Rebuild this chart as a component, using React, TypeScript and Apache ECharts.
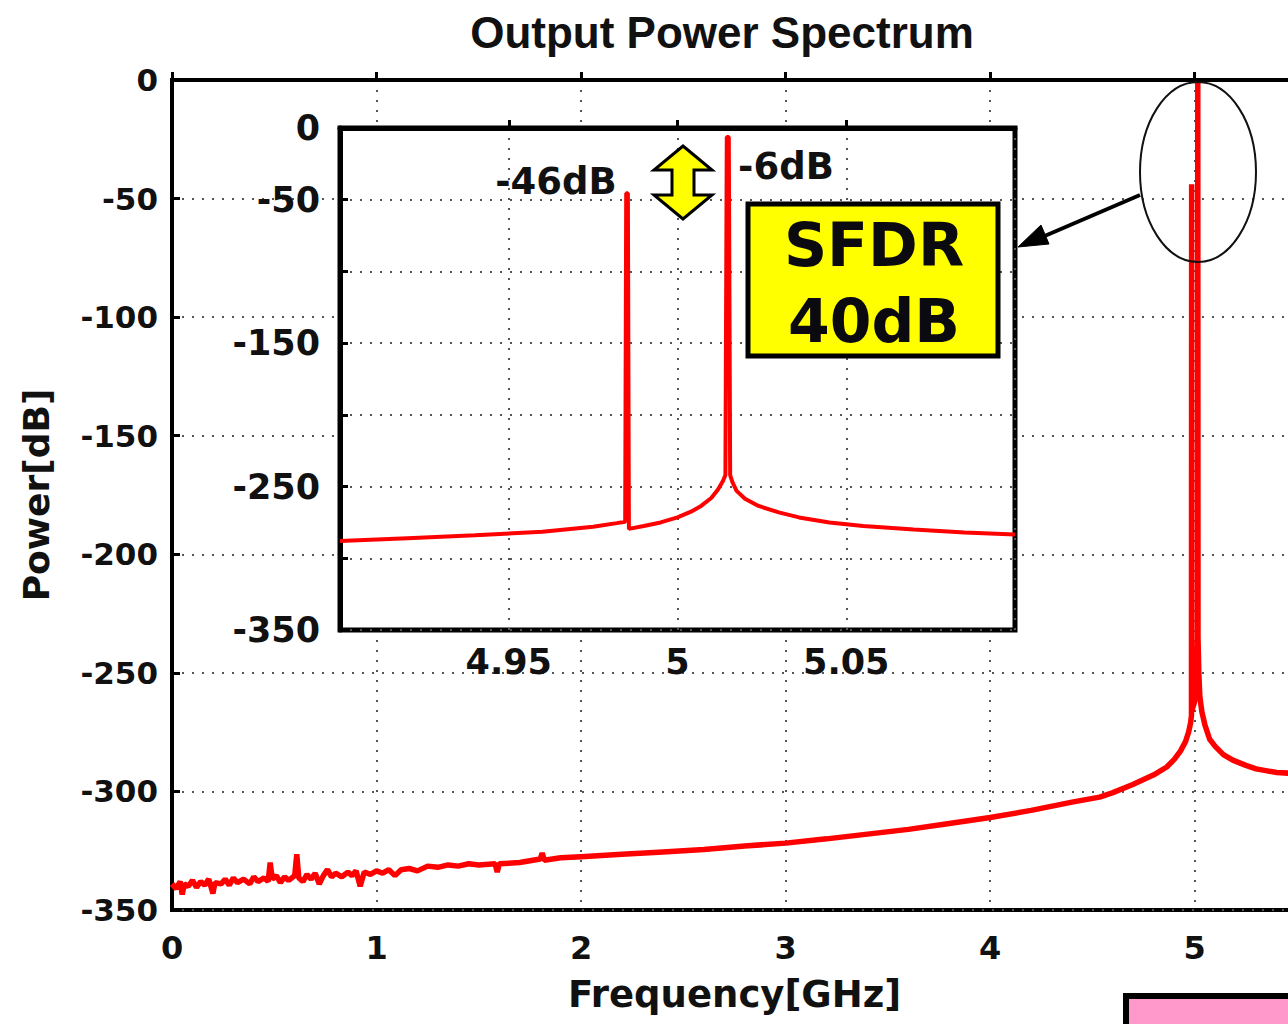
import React, { useEffect, useRef } from "react";
import * as echarts from "echarts";

// ---- Data ----
const mainFreqGHz = [
  0.0, 0.02, 0.04, 0.05, 0.06, 0.08, 0.1, 0.12, 0.14, 0.16, 0.18, 0.2, 0.21, 0.24, 0.26, 0.28, 0.3, 0.32, 0.35,
  0.38, 0.4, 0.42, 0.45, 0.47, 0.48, 0.49, 0.51, 0.53, 0.55, 0.57, 0.6, 0.61, 0.62, 0.64, 0.66, 0.68, 0.7, 0.72,
  0.74, 0.76, 0.78, 0.8, 0.83, 0.86, 0.88, 0.9, 0.92, 0.94, 0.97, 1.0, 1.03, 1.06, 1.09, 1.12, 1.16, 1.2, 1.25,
  1.3, 1.35, 1.4, 1.45, 1.5, 1.58, 1.59, 1.6, 1.7, 1.8, 1.81, 1.82, 1.9, 2.0, 2.2, 2.4, 2.6, 2.8, 3.0, 3.2, 3.4,
  3.6, 3.8, 4.0, 4.2, 4.4, 4.535, 4.6, 4.7, 4.8, 4.863, 4.9, 4.93, 4.955, 4.97, 4.98, 4.984, 4.985, 4.986, 5.0,
  5.01, 5.014, 5.015, 5.016, 5.02, 5.025, 5.035, 5.05, 5.073, 5.1, 5.14, 5.186, 5.25, 5.3, 5.4, 5.5,
];
const mainPowerDb = [
  -339, -341, -338, -343.5, -339, -340, -337.5, -340.5, -338, -339.5, -337, -343, -338.5, -339, -337, -339.5,
  -336.5, -338.5, -337, -339, -336, -338, -336.5, -338, -330, -337, -335.5, -338.5, -336, -337.5, -335.5, -326.5,
  -336.5, -338, -335, -337, -334.5, -339, -335.5, -333, -336, -334.5, -336, -334, -335.5, -333.5, -340, -334,
  -335, -333.5, -334.5, -333, -335.5, -333, -332.5, -333.5, -331.5, -332, -331, -331.5, -330.5, -331, -330.5,
  -334, -330.5, -330, -328.5, -326, -329, -328, -327.5, -326.5, -325.5, -324.5, -323, -321.8, -320, -318, -316,
  -313.5, -311, -308, -304.5, -302.4, -300.5, -297, -293, -289.7, -286.5, -283, -279, -275, -271, -268, -44,
  -266, -262, -250, -235, -1, -235, -250, -260, -266.5, -272, -278, -281, -284.5, -286.8, -289, -290.5, -292,
  -292.5,
];

const insetFreqGHz = [
  4.9, 4.92, 4.94, 4.96, 4.975, 4.982, 4.9845, 4.9848, 4.9853, 4.9856, 4.99, 4.995, 5.0, 5.004, 5.007, 5.01,
  5.012, 5.0135, 5.0142, 5.0146, 5.0152, 5.0156, 5.0163, 5.0175, 5.02, 5.024, 5.03, 5.036, 5.045, 5.055, 5.07,
  5.085, 5.1,
];
const insetPowerDb = [
  -288, -286, -284, -281.5, -278, -275.5, -274.5, -45.5, -45.5, -279.5, -277.5, -275, -271.5, -267.5, -263.5,
  -258, -252, -246, -242, -6.3, -6.3, -242, -247, -253, -258.5, -263.5, -268, -271.5, -275, -277.5, -280, -282,
  -283.5,
];

const insetYTickLabels = [0, -50, -150, -250, -350];
const mainXTicks = { min: 0, max: 5.5, interval: 1 };
const mainYTicks = { min: -350, max: 0, interval: 50 };
const insetXTicks = { min: 4.9, max: 5.1, interval: 0.05 };

const TITLE = "Output Power Spectrum";
const X_NAME = "Frequency[GHz]";
const Y_NAME = "Power[dB]";
const SPUR_LABEL = "-46dB";
const TONE_LABEL = "-6dB";
const SFDR_LINES = ["SFDR", "40dB"];

const FONT = "DejaVu Sans";

export default function App() {
  const ref = useRef<HTMLDivElement>(null);

  useEffect(() => {
    if (!ref.current) return;
    const chart = echarts.init(ref.current, undefined, { renderer: "svg" });

    const mainData = mainFreqGHz.map((f, i) => [f, mainPowerDb[i]]);
    const insetData = insetFreqGHz.map((f, i) => [f, insetPowerDb[i]]);

    const gridDots = { color: "#555", width: 2, type: [2, 8] as any };

    const option: any = {
      animation: false,
      backgroundColor: "#fff",
      grid: [
        {
          left: 172,
          top: 80,
          width: 1125,
          height: 830,
          show: true,
          borderColor: "#000",
          borderWidth: 4,
          backgroundColor: "#fff",
          z: 0,
        },
        {
          left: 340,
          top: 128,
          width: 675,
          height: 502,
          show: true,
          borderColor: "#000",
          borderWidth: 5,
          backgroundColor: "#fff",
          z: 10,
        },
      ],
      xAxis: [
        {
          type: "value",
          gridIndex: 0,
          min: mainXTicks.min,
          max: mainXTicks.max,
          interval: mainXTicks.interval,
          name: X_NAME,
          nameLocation: "middle",
          nameGap: 66,
          nameTextStyle: { fontFamily: FONT, fontWeight: "bold", fontSize: 37, color: "#111" },
          axisLine: { show: true, lineStyle: { color: "#000", width: 4 } },
          axisTick: { show: true, inside: true, length: 8, lineStyle: { color: "#000", width: 3 } },
          axisLabel: {
            showMaxLabel: false,
            margin: 22,
            fontFamily: FONT,
            fontWeight: "bold",
            fontSize: 32,
            color: "#111",
          },
          splitLine: { show: true, lineStyle: gridDots },
          z: 1,
        },
        {
          type: "value",
          gridIndex: 1,
          min: insetXTicks.min,
          max: insetXTicks.max,
          interval: insetXTicks.interval,
          axisLine: { show: true, lineStyle: { color: "#000", width: 5 } },
          axisTick: { show: true, inside: true, length: 8, lineStyle: { color: "#000", width: 3 } },
          axisLabel: {
            showMinLabel: false,
            showMaxLabel: false,
            margin: 14,
            fontFamily: FONT,
            fontWeight: "bold",
            fontSize: 35,
            color: "#111",
            formatter: (v: number) => String(Math.round(v * 100) / 100),
          },
          splitLine: { show: true, lineStyle: gridDots },
          z: 11,
        },
      ],
      yAxis: [
        {
          type: "value",
          gridIndex: 0,
          min: mainYTicks.min,
          max: mainYTicks.max,
          interval: mainYTicks.interval,
          name: Y_NAME,
          nameLocation: "middle",
          nameGap: 118,
          nameRotate: 90,
          nameTextStyle: { fontFamily: FONT, fontWeight: "bold", fontSize: 36, color: "#111" },
          axisLine: { show: true, lineStyle: { color: "#000", width: 4 } },
          axisTick: { show: true, inside: true, length: 8, lineStyle: { color: "#000", width: 3 } },
          axisLabel: { margin: 14, fontFamily: FONT, fontWeight: "bold", fontSize: 31, color: "#111" },
          splitLine: { show: true, lineStyle: gridDots },
          z: 1,
        },
        {
          type: "value",
          gridIndex: 1,
          min: mainYTicks.min,
          max: mainYTicks.max,
          interval: mainYTicks.interval,
          axisLine: { show: true, lineStyle: { color: "#000", width: 5 } },
          axisTick: { show: true, inside: true, length: 8, lineStyle: { color: "#000", width: 3 } },
          axisLabel: {
            margin: 20,
            fontFamily: FONT,
            fontWeight: "bold",
            fontSize: 35,
            color: "#111",
            formatter: (v: number) => (insetYTickLabels.indexOf(v) >= 0 ? String(v) : ""),
          },
          splitLine: { show: true, lineStyle: gridDots },
          z: 11,
        },
      ],
      series: [
        {
          type: "line",
          xAxisIndex: 0,
          yAxisIndex: 0,
          data: mainData,
          showSymbol: false,
          lineStyle: { color: "#ff0000", width: 5.5 },
          clip: true,
          z: 2,
        },
        {
          type: "line",
          xAxisIndex: 1,
          yAxisIndex: 1,
          data: insetData,
          showSymbol: false,
          lineStyle: { color: "#ff0000", width: 4 },
          clip: true,
          z: 12,
        },
      ],
      graphic: [
        {
          type: "text",
          x: 722,
          y: 32,
          z: 100,
          style: {
            text: TITLE,
            fontFamily: "Liberation Sans",
            fontWeight: "bold",
            fontSize: 44,
            fill: "#111",
            textAlign: "center",
            textVerticalAlign: "middle",
          },
        },
        {
          type: "text",
          x: 556,
          y: 181,
          z: 100,
          style: {
            text: SPUR_LABEL,
            fontFamily: FONT,
            fontWeight: "bold",
            fontSize: 37,
            fill: "#111",
            textAlign: "center",
            textVerticalAlign: "middle",
          },
        },
        {
          type: "text",
          x: 786,
          y: 166,
          z: 100,
          style: {
            text: TONE_LABEL,
            fontFamily: FONT,
            fontWeight: "bold",
            fontSize: 37,
            fill: "#111",
            textAlign: "center",
            textVerticalAlign: "middle",
          },
        },
        {
          type: "polygon",
          z: 100,
          shape: {
            points: [
              [683, 146],
              [712, 170],
              [694, 170],
              [694, 195],
              [712, 195],
              [683, 219],
              [654, 195],
              [672, 195],
              [672, 170],
              [654, 170],
            ],
          },
          style: { fill: "#ffff00", stroke: "#000", lineWidth: 3, lineJoin: "miter" },
        },
        {
          type: "rect",
          z: 100,
          shape: { x: 748, y: 204, width: 250, height: 152 },
          style: { fill: "#ffff00", stroke: "#000", lineWidth: 5 },
        },
        {
          type: "text",
          x: 874,
          y: 245,
          z: 101,
          style: {
            text: SFDR_LINES[0],
            fontFamily: FONT,
            fontWeight: "bold",
            fontSize: 60,
            fill: "#0a0a10",
            textAlign: "center",
            textVerticalAlign: "middle",
          },
        },
        {
          type: "text",
          x: 874,
          y: 321,
          z: 101,
          style: {
            text: SFDR_LINES[1],
            fontFamily: FONT,
            fontWeight: "bold",
            fontSize: 60,
            fill: "#0a0a10",
            textAlign: "center",
            textVerticalAlign: "middle",
          },
        },
        {
          type: "ellipse",
          z: 100,
          shape: { cx: 1198, cy: 172, rx: 58, ry: 90 },
          style: { fill: "none", stroke: "#111", lineWidth: 2 },
        },
        {
          type: "line",
          z: 100,
          shape: { x1: 1140, y1: 195, x2: 1040, y2: 238 },
          style: { stroke: "#000", lineWidth: 4 },
        },
        {
          type: "polygon",
          z: 100,
          shape: {
            points: [
              [1018, 247],
              [1049, 244],
              [1041, 225],
            ],
          },
          style: { fill: "#000", stroke: "#000", lineWidth: 1 },
        },
        {
          type: "rect",
          z: 100,
          shape: { x: 1126, y: 996, width: 220, height: 80 },
          style: { fill: "#ff99cc", stroke: "#000", lineWidth: 6 },
        },
      ],
    };

    chart.setOption(option);
    return () => chart.dispose();
  }, []);

  return (
    <div
      style={{
        position: "fixed",
        left: 0,
        top: 0,
        width: 1288,
        height: 1024,
        overflow: "hidden",
        background: "#fff",
      }}
    >
      <div ref={ref} style={{ width: 1400, height: 1024 }} />
    </div>
  );
}
